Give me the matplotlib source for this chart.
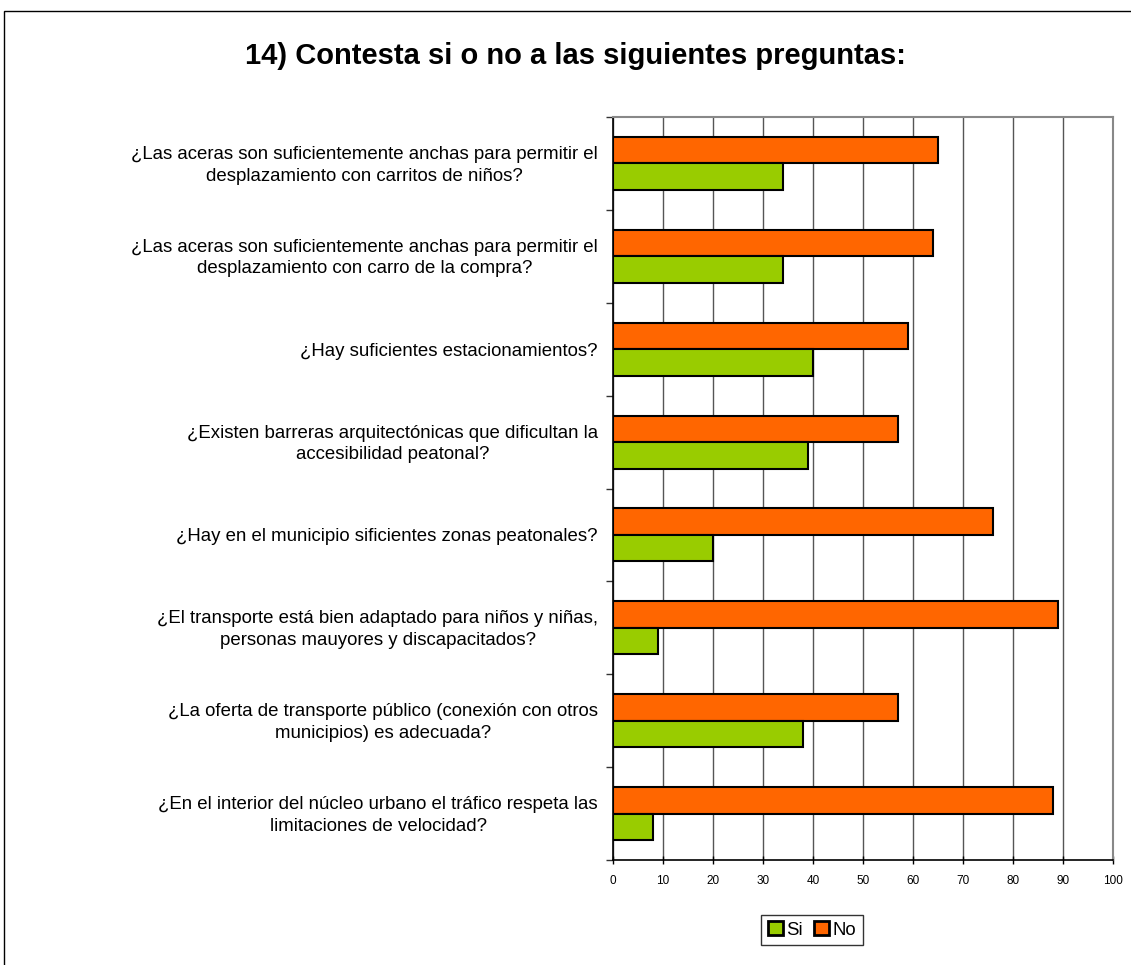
import numpy as np
import matplotlib.pyplot as plt
from matplotlib.patches import Rectangle

preguntas = [
    '¿Las aceras son suficientemente anchas para permitir el\ndesplazamiento con carritos de niños?',
    '¿Las aceras son suficientemente anchas para permitir el\ndesplazamiento con carro de la compra?',
    '¿Hay suficientes estacionamientos?',
    '¿Existen barreras arquitectónicas que dificultan la\naccesibilidad peatonal?',
    '¿Hay en el municipio sificientes zonas peatonales?',
    '¿El transporte está bien adaptado para niños y niñas,\npersonas mauyores y discapacitados?',
    '¿La oferta de transporte público (conexión con otros\nmunicipios) es adecuada?',
    '¿En el interior del núcleo urbano el tráfico respeta las\nlimitaciones de velocidad?',
]
si = [34, 34, 40, 39, 20, 9, 38, 8]
no = [65, 64, 59, 57, 76, 89, 57, 88]
xticks = list(range(0, 101, 10))

plt.rcParams['font.family'] = ['Liberation Sans', 'DejaVu Sans']

fig = plt.figure(figsize=(11.31, 9.65), dpi=100)
# marco exterior del grafico
fig.patches.append(Rectangle((4 / 1131, -0.5), 2.0, 1.5 - 11 / 965, transform=fig.transFigure,
                             fill=False, edgecolor='black', linewidth=1.0))

ax = fig.add_axes([613 / 1131, 1 - 860 / 965, 500 / 1131, 743 / 965])

n = len(preguntas)
y = np.arange(n)
h = 0.285
ax.barh(y - h / 2, no, height=h, color='#FF6600', edgecolor='black', linewidth=1.5, zorder=3, label='No')
ax.barh(y + h / 2, si, height=h, color='#99CC00', edgecolor='black', linewidth=1.5, zorder=3, label='Si')

ax.set_xlim(0, 100)
ax.set_ylim(n - 0.5, -0.5)
ax.set_xticks(xticks)
ax.set_xticklabels([str(v) for v in xticks], fontsize=8.5)
ax.tick_params(axis='x', direction='inout', length=6, width=1, pad=8)

# ticks en los limites de cada categoria, etiquetas en el centro
ax.set_yticks(np.arange(-0.5, n, 1.0))
ax.set_yticklabels([])
ax.tick_params(axis='y', direction='out', length=5, width=1, color='#333333')
for i, q in enumerate(preguntas):
    ax.text(-3, i + 0.02, q, ha='right', va='center', multialignment='center',
            fontsize=13.4, linespacing=1.35, transform=ax.transData, clip_on=False)

ax.grid(axis='x', color='#555555', linewidth=1, zorder=0)
for s in ['top', 'right']:
    ax.spines[s].set_color('#888888')
    ax.spines[s].set_linewidth(1.5)
for s in ['left', 'bottom']:
    ax.spines[s].set_color('black')
    ax.spines[s].set_linewidth(1.2)

fig.text(575 / 1131, 1 - 56 / 965, '14) Contesta si o no a las siguientes preguntas:',
         ha='center', va='center', fontsize=21, fontweight='bold')

handles, labels = ax.get_legend_handles_labels()
leg = fig.legend(handles[::-1], labels[::-1], loc='center', bbox_to_anchor=(812 / 1131, 1 - 930 / 965),
                 ncol=2, fontsize=13.4, frameon=True, fancybox=False, edgecolor='black',
                 handlelength=0.8, handleheight=0.8, handletextpad=0.2, columnspacing=0.6,
                 borderpad=0.35, borderaxespad=0)
leg.get_frame().set_linewidth(1)
for p in leg.get_patches():
    p.set_linewidth(2)

fig.savefig('out.png', dpi=100)
